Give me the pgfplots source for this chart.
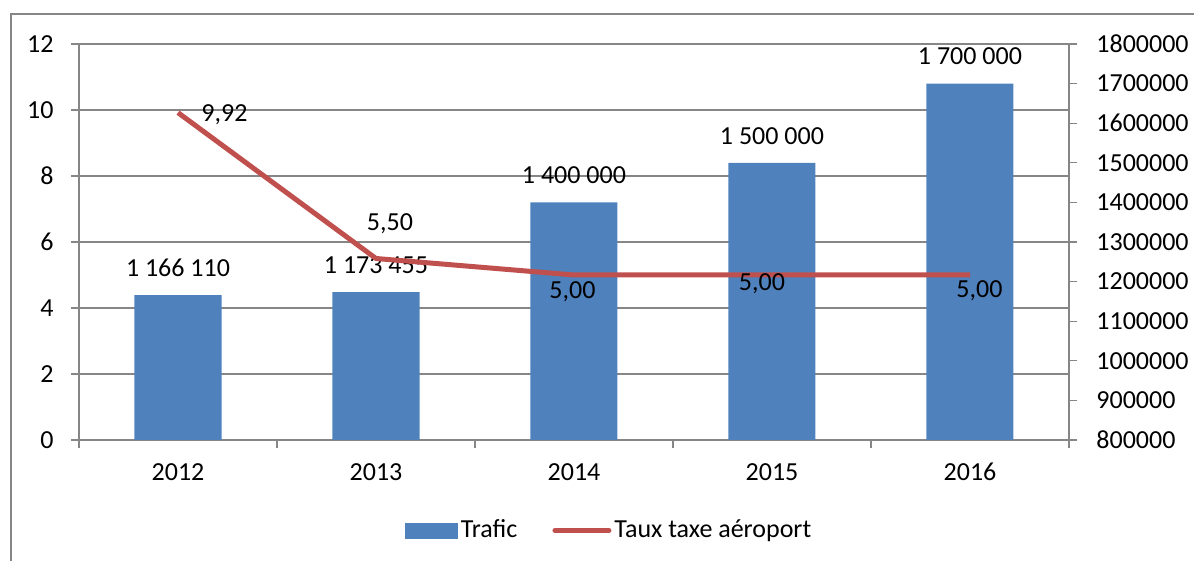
\documentclass[border=0pt]{standalone}
\usepackage{pgfplots}
\pgfplotsset{compat=1.18}
\usepackage{pgfplotstable}
\usepackage{fontspec}
\setmainfont{Carlito}
\definecolor{barblue}{HTML}{4F81BD}
\definecolor{linered}{HTML}{C0504D}
\definecolor{axgray}{HTML}{868686}

\pgfplotstableread[col sep=semicolon,row sep=\\]{
x;trafic;label\\
0;1166110;1 166 110\\
1;1173455;1 173 455\\
2;1400000;1 400 000\\
3;1500000;1 500 000\\
4;1700000;1 700 000\\
}\trafic

\pgfplotstableread{
x y
0 9.92
1 5.50
2 5.00
3 5.00
4 5.00
}\taux

\pgfplotsset{base/.style={
  at={(0,0)}, anchor=south west, scale only axis, width=495bp, height=198bp,
  xmin=-0.5, xmax=4.5,
  /pgf/number format/assume math mode=true,
  axis line style={axgray, line width=0.6bp},
  every tick/.style={axgray, line width=0.6bp},
  major tick length=4bp, minor tick length=4bp,
}}

\begin{document}
\begin{tikzpicture}[font=\fontsize{13bp}{15.6bp}\selectfont]
\useasboundingbox (-39.5bp,-60.5bp) rectangle (557.5bp,220bp);
\draw[axgray, line width=0.6bp] (-34bp,-61bp) -- (-34bp,213bp) -- (558bp,213bp);

% Axis A: left scale, grid, categories
\begin{axis}[base, ymin=0, ymax=12, ytick={0,2,4,6,8,10,12},
  axis y line*=left, axis x line*=bottom, tick align=outside,
  ymajorgrids, grid style={axgray, line width=0.6bp},
  xtick={0,1,2,3,4}, xticklabels={2012,2013,2014,2015,2016},
  minor xtick={-0.5,0.5,1.5,2.5,3.5,4.5},
  major x tick style={draw=none},
  yticklabel style={inner sep=0pt, xshift=-8.5bp},
  xticklabel style={inner sep=0pt, yshift=-7.5bp},
]
\end{axis}

% Axis B: right scale, bars
\begin{axis}[base, ymin=800000, ymax=1800000,
  ytick={800000,900000,1000000,1100000,1200000,1300000,1400000,1500000,1600000,1700000,1800000},
  axis y line*=right, axis x line=none, tick align=outside,
  scaled y ticks=false,
  yticklabel style={inner sep=0pt, xshift=9.5bp, /pgf/number format/.cd, fixed, 1000 sep={}},
  ybar, bar width=43.5bp,
]
\addplot[fill=barblue, draw=none, point meta=explicit symbolic, nodes near coords,
  nodes near coords style={anchor=center, yshift=13.5bp, text=black}]
  table[x=x, y=trafic, meta=label] \trafic;
\end{axis}

% Axis C: left scale, line
\begin{axis}[base, ymin=0, ymax=12, hide axis, clip=false,
  legend style={draw=none, fill=none, at={(0.536,-0.2285)}, anchor=center,
    legend columns=2, /tikz/every even column/.append style={column sep=16bp},
    nodes={inner sep=1.5bp}},
]
\addlegendimage{legend image code/.code={\fill[barblue] (0bp,-3.75bp) rectangle (26bp,3.75bp);}}
\addlegendentry{Trafic}
\addplot[linered, line width=2.5bp, line join=round, mark=none,
  legend image code/.code={\draw[linered, line width=2.5bp, line cap=round] (0bp,0bp) -- (27bp,0bp);}]
  table[x=x, y=y] \taux;
\addlegendentry{Taux taxe aéroport}
\node[anchor=center] at (axis cs:0,9.92) [xshift=23.25bp, yshift=-1bp] {9,92};
\node[anchor=center] at (axis cs:1,5.50) [xshift=7bp, yshift=17.25bp] {5,50};
\node[anchor=center] at (axis cs:2,5.00) [xshift=-0.75bp, yshift=-8.5bp] {5,00};
\node[anchor=center] at (axis cs:3,5.00) [xshift=-5bp, yshift=-4.5bp] {5,00};
\node[anchor=center] at (axis cs:4,5.00) [xshift=4.75bp, yshift=-8bp] {5,00};
\end{axis}
\end{tikzpicture}
\end{document}
